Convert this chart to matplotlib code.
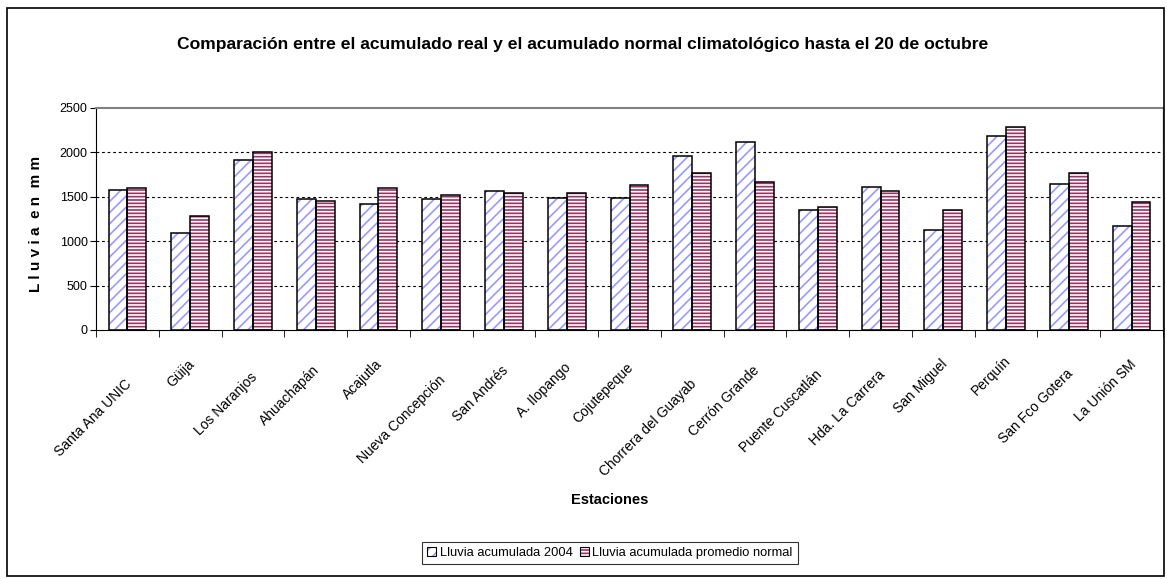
import matplotlib
matplotlib.use("Agg")
import matplotlib.pyplot as plt
from matplotlib.patches import Patch, Rectangle
from matplotlib.legend_handler import HandlerTuple
import numpy as np

plt.rcParams['font.family'] = ['Liberation Sans', 'DejaVu Sans']
plt.rcParams['hatch.linewidth'] = 1.2

estaciones = ["Santa Ana UNIC", "Güija", "Los Naranjos", "Ahuachapán", "Acajutla",
              "Nueva Concepción", "San Andrés", "A. Ilopango", "Cojutepeque",
              "Chorrera del Guayab", "Cerrón Grande", "Puente Cuscatlán",
              "Hda. La Carrera", "San Miguel", "Perquín", "San Fco Gotera", "La Unión SM"]
lluvia_2004 = [1576, 1094, 1919, 1474, 1418, 1474, 1565, 1486, 1486,
               1965, 2112, 1350, 1610, 1131, 2183, 1644, 1169]
lluvia_normal = [1599, 1282, 2002, 1452, 1599, 1520, 1542, 1538, 1633,
                 1772, 1670, 1384, 1569, 1350, 2285, 1772, 1440]
yticks = [0, 500, 1000, 1500, 2000, 2500]

W, H = 1167, 579
fig = plt.figure(figsize=(W / 100, H / 100), dpi=100)
fig.patch.set_facecolor('white')
fig.patches.append(Rectangle((7 / W, 3 / H), 1157 / W, 1 - 11 / H, transform=fig.transFigure,
                             fill=False, edgecolor='black', linewidth=1.2))

ax = fig.add_axes([96 / W, 1 - 330 / H, (1163 - 96) / W, (330 - 108) / H])

n = len(estaciones)
x = np.arange(n)
bw = 0.30
c1 = '#9999FF'
c2 = '#993366'

ax.bar(x - bw / 2, lluvia_2004, bw, facecolor='white', edgecolor=c1, hatch='///', linewidth=0, zorder=2)
ax.bar(x - bw / 2, lluvia_2004, bw, fill=False, edgecolor='black', linewidth=1.1, zorder=3)
ax.bar(x + bw / 2, lluvia_normal, bw, facecolor=c2, edgecolor='white', hatch='-----', linewidth=0, zorder=2)
ax.bar(x + bw / 2, lluvia_normal, bw, fill=False, edgecolor='black', linewidth=1.1, zorder=3)

ax.set_xlim(-0.5, n - 0.5)
ax.set_ylim(0, 2500)
ax.set_yticks(yticks)
ax.set_yticklabels([str(v) for v in yticks], fontsize=9)
for v in yticks[1:-1]:
    ax.axhline(v, color='black', linestyle=(0, (2.5, 2.5)), linewidth=0.8, zorder=1)

ax.set_xticks(x)
ax.set_xticklabels([])
ax.set_xticks(np.arange(n + 1) - 0.5, minor=True)
ax.tick_params(axis='x', which='major', length=0)
ax.tick_params(axis='x', which='minor', length=5, color='black', direction='out')
ax.tick_params(axis='y', length=4, direction='out', pad=2)

ax.spines['top'].set_color('#808080')
ax.spines['right'].set_color('#808080')
ax.spines['top'].set_linewidth(1.5)
ax.spines['right'].set_linewidth(1.0)
ax.spines['left'].set_color('black')
ax.spines['bottom'].set_color('black')

# category labels (rotated 45 degrees), end point near each category centre
label_end_y = [382, 362, 375, 368, 362, 378, 368, 365, 365, 382, 368, 372, 372, 362, 358, 372, 362]
for i, name in enumerate(estaciones):
    xd = ax.transData.transform((x[i], 0))[0]
    fx = (xd + 2) / W
    fy = 1 - label_end_y[i] / H
    fig.text(fx, fy, name, rotation=45, rotation_mode='anchor', ha='right', va='center',
             fontsize=10)

fig.text(583 / W, 1 - 45 / H,
         "Comparación entre el acumulado real y el acumulado normal climatológico hasta el 20 de octubre",
         ha='center', va='center', fontsize=12.6, fontweight='bold')
fig.text(36 / W, 1 - 224 / H, "L l u v i a  e n  m m", rotation=90, ha='center', va='center',
         fontsize=11, fontweight='bold')
fig.text(610 / W, 1 - 500 / H, "Estaciones", ha='center', va='center', fontsize=10.5, fontweight='bold')

h1 = (Patch(facecolor='white', edgecolor=c1, hatch='///', linewidth=0),
      Patch(fill=False, edgecolor='black', linewidth=0.8))
h2 = (Patch(facecolor=c2, edgecolor='white', hatch='-----', linewidth=0),
      Patch(fill=False, edgecolor='black', linewidth=0.8))
leg = fig.legend([h1, h2], ["Lluvia acumulada 2004", "Lluvia acumulada promedio normal"],
                 handler_map={tuple: HandlerTuple(ndivide=1, pad=0)},
                 loc='center', bbox_to_anchor=(610 / W, 1 - 553 / H), ncol=2, fontsize=9.3,
                 frameon=True, fancybox=False, edgecolor='black', handlelength=0.7,
                 handleheight=0.7, handletextpad=0.3, columnspacing=0.5, borderpad=0.4)
leg.get_frame().set_linewidth(0.8)

fig.savefig('out.png', dpi=100)
